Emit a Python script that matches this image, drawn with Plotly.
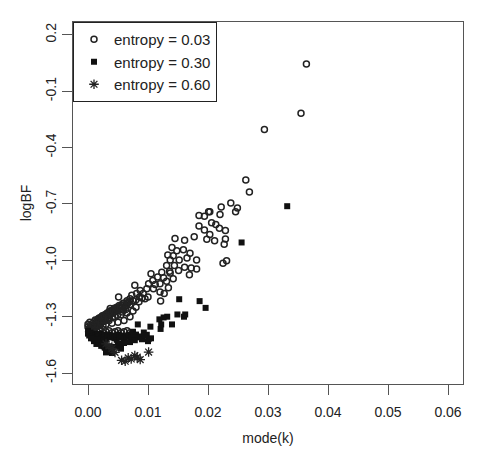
import plotly.graph_objects as go

# entropy = 0.03 (open circles)
c_x = [0.0364, 0.0355, 0.0294, 0.0263, 0.0269,
       0.0238, 0.0249, 0.0246, 0.0222, 0.0220, 0.0201, 0.0194, 0.0185, 0.0185, 0.0206,
       0.0213, 0.0219, 0.0229, 0.0194, 0.0198, 0.0211, 0.0229, 0.0227, 0.0177, 0.0145,
       0.0161, 0.0225, 0.0231, 0.0203, 0.0203,
       0.0140, 0.0148, 0.0159, 0.0170, 0.0133, 0.0142, 0.0152, 0.0165, 0.0181, 0.0137,
       0.0131, 0.0144, 0.0161, 0.0172, 0.0181, 0.0169, 0.0151, 0.0136, 0.0123, 0.0137,
       0.0105, 0.0116, 0.0126, 0.0142, 0.0131, 0.0108, 0.0101, 0.0112, 0.0120, 0.0134,
       0.0109, 0.0098, 0.0087, 0.0078, 0.0120, 0.0092, 0.0081, 0.0073, 0.0121, 0.0127,
       0.0051, 0.0037, 0.0070, 0.0064, 0.0059, 0.0086,
       0.0000, 0.0002, 0.0004, 0.0006, 0.0008, 0.0010, 0.0012, 0.0014, 0.0016, 0.0018,
       0.0020, 0.0022, 0.0024, 0.0026, 0.0028, 0.0030, 0.0032, 0.0034, 0.0036, 0.0038,
       0.0040, 0.0042, 0.0044, 0.0046, 0.0048, 0.0050, 0.0052, 0.0055, 0.0058, 0.0062,
       0.0066, 0.0070, 0.0075, 0.0080, 0.0085, 0.0090, 0.0095, 0.0100,
       0.0001, 0.0003, 0.0005, 0.0007, 0.0009, 0.0011, 0.0013, 0.0015, 0.0017, 0.0019,
       0.0021, 0.0023, 0.0025, 0.0027, 0.0029, 0.0031, 0.0033, 0.0035, 0.0039, 0.0043,
       0.0047, 0.0051, 0.0056, 0.0060, 0.0065, 0.0069,
       0.0002, 0.0006, 0.0010, 0.0015, 0.0020, 0.0025, 0.0030, 0.0035, 0.0040, 0.0045,
       0.0050, 0.0055, 0.0060, 0.0065, 0.0070, 0.0008, 0.0012,
       0.0020, 0.0030, 0.0040, 0.0050, 0.0060, 0.0045, 0.0055, 0.0065, 0.0035, 0.0025,
       0.0070, 0.0075, 0.0080, 0.0003, 0.0000,
       0.0012, 0.0018, 0.0024, 0.0030, 0.0036, 0.0042, 0.0048, 0.0054, 0.0060, 0.0066,
       0.0015, 0.0022, 0.0028, 0.0034, 0.0041, 0.0049, 0.0057, 0.0063]
c_y = [0.044, -0.217, -0.304, -0.572, -0.637,
       -0.695, -0.721, -0.742, -0.716, -0.756, -0.742, -0.765, -0.761, -0.818, -0.800,
       -0.809, -0.830, -0.841, -0.839, -0.888, -0.896, -0.886, -0.914, -0.875, -0.884,
       -0.893, -1.016, -1.002, -0.862, -0.742,
       -0.932, -0.949, -0.944, -0.963, -0.972, -0.975, -0.998, -0.988, -0.998, -0.998,
       -1.028, -1.028, -1.037, -1.041, -1.046, -1.077, -1.054, -1.058, -1.063, -1.068,
       -1.072, -1.089, -1.093, -1.098, -1.111, -1.107, -1.125, -1.128, -1.125, -1.146,
       -1.151, -1.151, -1.160, -1.133, -1.168, -1.177, -1.177, -1.186, -1.216, -1.177,
       -1.195, -1.256, -1.204, -1.239, -1.265, -1.195,
       -1.355, -1.370, -1.345, -1.360, -1.335, -1.350, -1.325, -1.340, -1.315, -1.330,
       -1.305, -1.320, -1.295, -1.310, -1.290, -1.300, -1.280, -1.295, -1.270, -1.285,
       -1.265, -1.280, -1.255, -1.270, -1.250, -1.265, -1.240, -1.255, -1.230, -1.245,
       -1.225, -1.235, -1.215, -1.210, -1.220, -1.200, -1.205, -1.195,
       -1.380, -1.360, -1.375, -1.350, -1.365, -1.340, -1.355, -1.330, -1.345, -1.320,
       -1.335, -1.315, -1.325, -1.300, -1.315, -1.290, -1.305, -1.285, -1.275, -1.268,
       -1.258, -1.248, -1.240, -1.228, -1.215, -1.220,
       -1.385, -1.380, -1.375, -1.380, -1.375, -1.385, -1.380, -1.375, -1.385, -1.380,
       -1.375, -1.385, -1.380, -1.375, -1.385, -1.415, -1.425,
       -1.345, -1.340, -1.335, -1.330, -1.320, -1.300, -1.290, -1.280, -1.320, -1.345,
       -1.300, -1.270, -1.250, -1.330, -1.340,
       -1.318, -1.308, -1.298, -1.288, -1.278, -1.268, -1.258, -1.248, -1.238, -1.228,
       -1.342, -1.332, -1.322, -1.312, -1.302, -1.292, -1.275, -1.262]

# entropy = 0.30 (filled squares)
s_x = [0.0332, 0.0256, 0.0152, 0.0186, 0.0196, 0.0149, 0.0162, 0.0160, 0.0132, 0.0126,
       0.0119, 0.0140, 0.0122, 0.0121, 0.0104, 0.0083, 0.0098, 0.0101, 0.0093, 0.0087,
       0.0076, 0.0064, 0.0059, 0.0048, 0.0037, 0.0031, 0.0040, 0.0026,
       0.0000, 0.0002, 0.0004, 0.0006, 0.0008, 0.0010, 0.0012, 0.0014, 0.0016, 0.0018,
       0.0020, 0.0022, 0.0024, 0.0026, 0.0028, 0.0030, 0.0032, 0.0035, 0.0038, 0.0041,
       0.0044, 0.0047, 0.0050, 0.0053, 0.0056, 0.0060, 0.0064, 0.0068, 0.0072,
       0.0010, 0.0014, 0.0018, 0.0022, 0.0025, 0.0028, 0.0032, 0.0036, 0.0040,
       0.0075, 0.0080, 0.0085, 0.0090, 0.0095, 0.0100, 0.0105, 0.0078, 0.0070, 0.0060,
       0.0050, 0.0045, 0.0055, 0.0035, 0.0030, 0.0015, 0.0005, 0.0000]
s_y = [-0.712, -0.905, -1.207, -1.217, -1.253, -1.288, -1.288, -1.300, -1.300, -1.304,
       -1.314, -1.341, -1.341, -1.365, -1.353, -1.341, -1.396, -1.419, -1.384, -1.405,
       -1.414, -1.405, -1.440, -1.423, -1.467, -1.484, -1.493, -1.458,
       -1.390, -1.400, -1.385, -1.395, -1.405, -1.390, -1.400, -1.410, -1.395, -1.405,
       -1.390, -1.415, -1.400, -1.410, -1.395, -1.420, -1.405, -1.395, -1.410, -1.400,
       -1.415, -1.405, -1.395, -1.410, -1.400, -1.415, -1.405, -1.395, -1.410,
       -1.430, -1.445, -1.440, -1.455, -1.440, -1.465, -1.470, -1.460, -1.480,
       -1.380, -1.395, -1.410, -1.420, -1.400, -1.430, -1.415, -1.425, -1.435, -1.440,
       -1.445, -1.460, -1.470, -1.485, -1.490, -1.420, -1.415, -1.375]

# entropy = 0.60 (stars)
a_x = [0.0056, 0.0067, 0.0078, 0.0087, 0.0101, 0.0062, 0.0072, 0.0082,
       0.0035, 0.0040, 0.0030, 0.0045]
a_y = [-1.532, -1.519, -1.507, -1.528, -1.488, -1.537, -1.525, -1.515,
       -1.455, -1.470, -1.445, -1.490]

x_ticks = [0.00, 0.01, 0.02, 0.03, 0.04, 0.05, 0.06]
x_labels = ["0.00", "0.01", "0.02", "0.03", "0.04", "0.05", "0.06"]
y_ticks = [0.2, -0.1, -0.4, -0.7, -1.0, -1.3, -1.6]
y_labels = ["0.2", "-0.1", "-0.4", "-0.7", "-1.0", "-1.3", "-1.6"]

ink = "#222222"
fig = go.Figure()
fig.add_trace(go.Scatter(x=c_x, y=c_y, mode="markers", name="entropy = 0.03",
                         marker=dict(symbol="circle-open", size=6, color=ink,
                                     line=dict(width=1.5, color=ink))))
fig.add_trace(go.Scatter(x=s_x, y=s_y, mode="markers", name="entropy = 0.30",
                         marker=dict(symbol="square", size=6, color="#111111",
                                     line=dict(width=0))))
fig.add_trace(go.Scatter(x=a_x, y=a_y, mode="markers", name="entropy = 0.60",
                         marker=dict(symbol="asterisk-open", size=8, color=ink,
                                     line=dict(width=1.3, color=ink))))

font = dict(family="Liberation Sans, Arial, sans-serif", size=14, color=ink)
fig.update_layout(
    width=477, height=456,
    margin=dict(l=73, r=14, t=22, b=68),
    paper_bgcolor="white", plot_bgcolor="white",
    font=font,
    showlegend=True,
    legend=dict(x=0, y=1, xanchor="left", yanchor="top",
                bordercolor=ink, borderwidth=1, bgcolor="white",
                font=dict(family="Liberation Sans, Arial, sans-serif", size=15, color=ink),
                itemwidth=30, tracegroupgap=0),
    xaxis=dict(range=[-0.0025, 0.0625], tickvals=x_ticks, ticktext=x_labels,
               showgrid=False, zeroline=False, showline=True, mirror=True,
               linecolor="#555555", linewidth=1, ticks="outside", ticklen=10,
               tickcolor="#555555", ticklabelstandoff=5,
               title=dict(text="mode(k)", standoff=14, font=font)),
    yaxis=dict(range=[-1.658, 0.268], tickvals=y_ticks, ticktext=y_labels,
               tickangle=-90,
               showgrid=False, zeroline=False, showline=True, mirror=True,
               linecolor="#555555", linewidth=1, ticks="outside", ticklen=10,
               tickcolor="#555555",
               title=dict(text="logBF", standoff=8, font=font)),
)

fig.write_html("out.html")
